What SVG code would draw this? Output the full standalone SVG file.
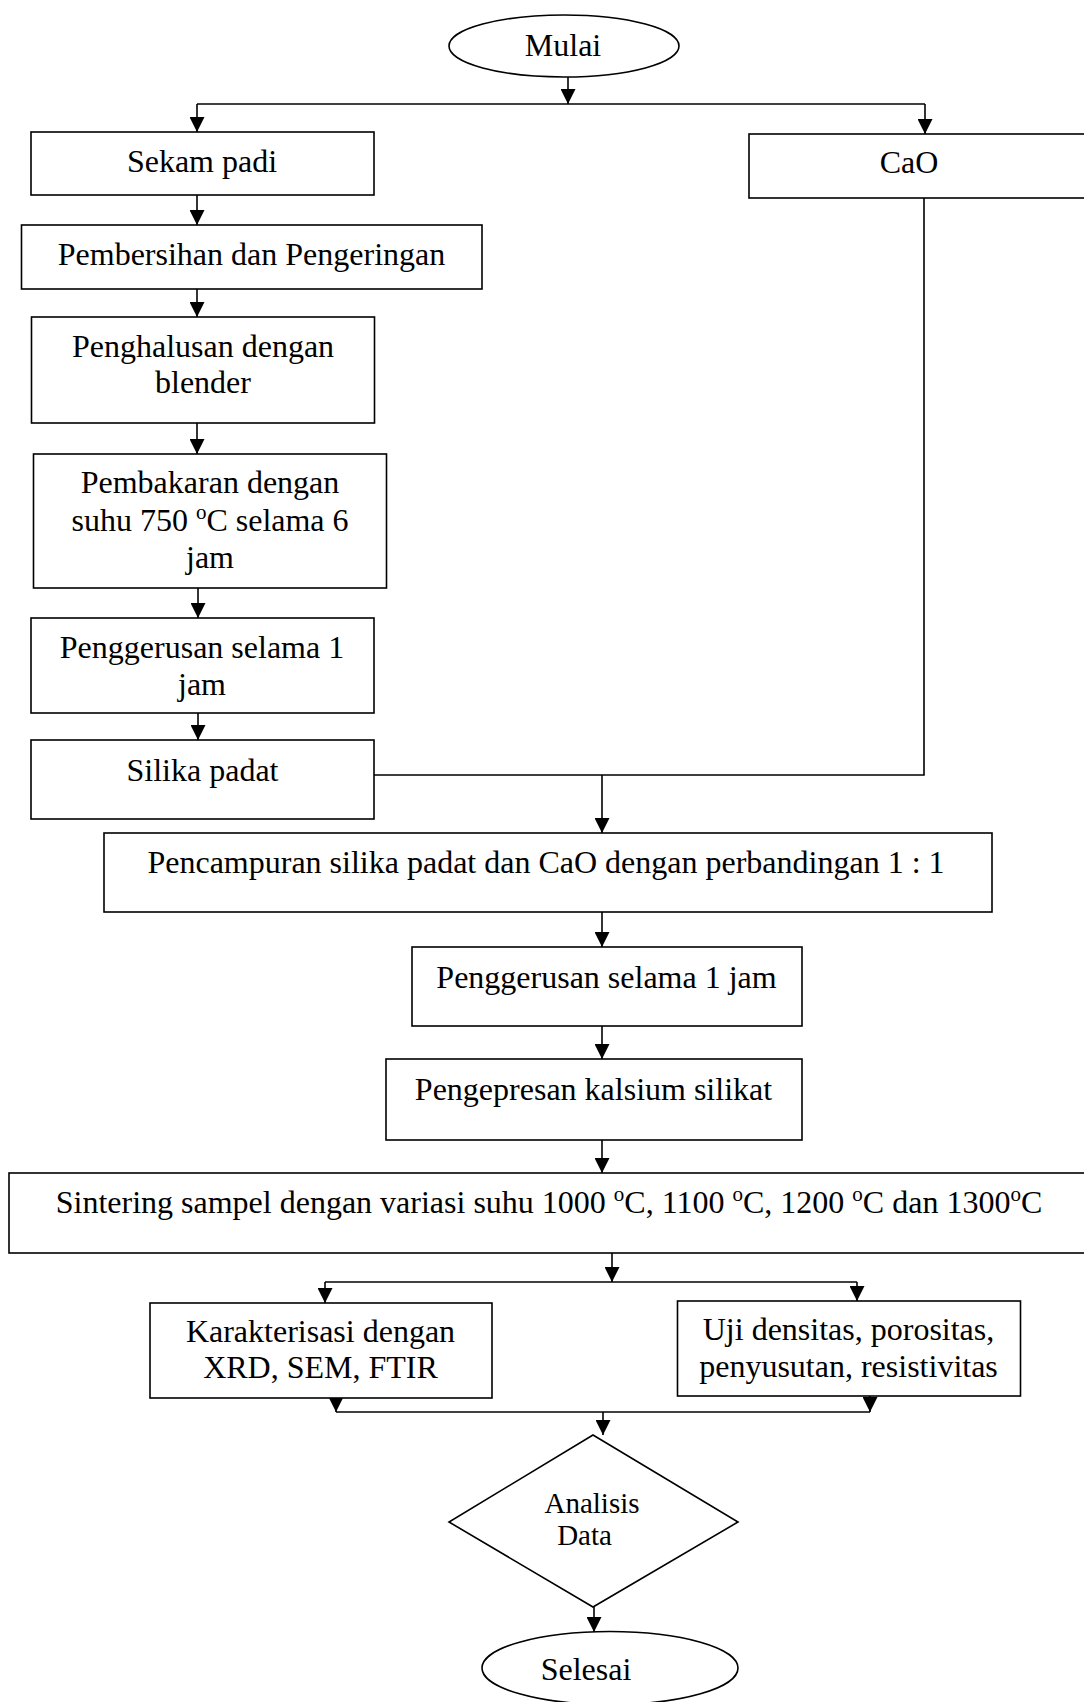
<svg xmlns="http://www.w3.org/2000/svg" width="1084" height="1702" viewBox="0 0 1084 1702">
<style>
.n{fill:#fff;stroke:#000;stroke-width:1.6}
.t{font-family:"Liberation Serif","Times New Roman",serif;font-size:32px;fill:#000;text-anchor:middle}
.s{font-size:29px}
.c{fill:none;stroke:#000;stroke-width:1.6}
</style>
<defs>
<marker id="ah" markerUnits="userSpaceOnUse" markerWidth="15" markerHeight="15" refX="15" refY="7.5" orient="auto">
<path d="M0,0 L15,7.5 L0,15 Z" fill="#000"/>
</marker>
</defs>
<rect width="1084" height="1702" fill="#fff"/>
<g id="connectors">
<path class="c" d="M568,77 V104" marker-end="url(#ah)"/>
<path class="c" d="M197,104 H925"/>
<path class="c" d="M197,104 V132" marker-end="url(#ah)"/>
<path class="c" d="M925,104 V134" marker-end="url(#ah)"/>
<path class="c" d="M197,195 V225" marker-end="url(#ah)"/>
<path class="c" d="M197,289 V317" marker-end="url(#ah)"/>
<path class="c" d="M197,423 V454" marker-end="url(#ah)"/>
<path class="c" d="M198,588 V618" marker-end="url(#ah)"/>
<path class="c" d="M198,713 V740" marker-end="url(#ah)"/>
<path class="c" d="M374,775 H924 V198"/>
<path class="c" d="M602,775 V833" marker-end="url(#ah)"/>
<path class="c" d="M602,912 V947" marker-end="url(#ah)"/>
<path class="c" d="M602,1026 V1059" marker-end="url(#ah)"/>
<path class="c" d="M602,1140 V1173" marker-end="url(#ah)"/>
<path class="c" d="M612,1253 V1282" marker-end="url(#ah)"/>
<path class="c" d="M325,1282 H857"/>
<path class="c" d="M325,1282 V1303" marker-end="url(#ah)"/>
<path class="c" d="M857,1282 V1301" marker-end="url(#ah)"/>
<path class="c" d="M336,1397 V1412" marker-end="url(#ah)"/>
<path class="c" d="M870,1396 V1412" marker-end="url(#ah)"/>
<path class="c" d="M336,1412 H870"/>
<path class="c" d="M603,1412 V1435" marker-end="url(#ah)"/>
<path class="c" d="M594,1607 V1632" marker-end="url(#ah)"/>
</g>
<g id="mulai"><ellipse class="n" cx="564" cy="46" rx="115" ry="31"/><text class="t" x="563" y="56">Mulai</text></g>
<g id="sekam"><rect class="n" x="31" y="132" width="343" height="63"/><text class="t" x="202" y="172">Sekam padi</text></g>
<g id="cao"><rect class="n" x="749" y="134" width="345" height="64"/><text class="t" x="909" y="173">CaO</text></g>
<g id="pembersihan"><rect class="n" x="21.5" y="225" width="460.5" height="64"/><text class="t" x="251.5" y="265">Pembersihan dan Pengeringan</text></g>
<g id="penghalusan"><rect class="n" x="31.5" y="317" width="343" height="106"/><text class="t" x="203" y="357">Penghalusan dengan</text><text class="t" x="203" y="393">blender</text></g>
<g id="pembakaran"><rect class="n" x="33.5" y="454" width="353" height="134"/><text class="t" x="210" y="493">Pembakaran dengan</text><text class="t" x="210" y="531">suhu 750 <tspan font-size="21" dy="-12">o</tspan><tspan dy="12">C selama 6</tspan></text><text class="t" x="210" y="568">jam</text></g>
<g id="penggerusan1"><rect class="n" x="31" y="618" width="343" height="95"/><text class="t" x="202" y="658">Penggerusan selama 1</text><text class="t" x="202" y="695">jam</text></g>
<g id="silika"><rect class="n" x="31" y="740" width="343" height="79"/><text class="t" x="202.5" y="781">Silika padat</text></g>
<g id="pencampuran"><rect class="n" x="104" y="833" width="888" height="79"/><text class="t" x="546" y="873">Pencampuran silika padat dan CaO dengan perbandingan 1 : 1</text></g>
<g id="penggerusan2"><rect class="n" x="412" y="947" width="390" height="79"/><text class="t" x="606.5" y="988">Penggerusan selama 1 jam</text></g>
<g id="pengepresan"><rect class="n" x="386" y="1059" width="416" height="81"/><text class="t" x="593.5" y="1100">Pengepresan kalsium silikat</text></g>
<g id="sintering"><rect class="n" x="9" y="1173" width="1085" height="80"/><text class="t" x="549" y="1213">Sintering sampel dengan variasi suhu 1000 <tspan font-size="21" dy="-12">o</tspan><tspan dy="12">C, 1100 </tspan><tspan font-size="21" dy="-12">o</tspan><tspan dy="12">C, 1200 </tspan><tspan font-size="21" dy="-12">o</tspan><tspan dy="12">C dan 1300</tspan><tspan font-size="21" dy="-12">o</tspan><tspan dy="12">C</tspan></text></g>
<g id="karakterisasi"><rect class="n" x="150" y="1303" width="342" height="95"/><text class="t" x="320.5" y="1342">Karakterisasi dengan</text><text class="t" x="320.5" y="1378">XRD, SEM, FTIR</text></g>
<g id="uji"><rect class="n" x="677.5" y="1301" width="343" height="95"/><text class="t" x="848.5" y="1340">Uji densitas, porositas,</text><text class="t" x="848.5" y="1377">penyusutan, resistivitas</text></g>
<g id="analisis"><polygon class="n" points="593,1435 738,1522 593,1607 449,1522"/><text class="t s" x="592" y="1513">Analisis</text><text class="t s" x="584.5" y="1545">Data</text></g>
<g id="selesai"><ellipse class="n" cx="610" cy="1668" rx="128" ry="36.5"/><text class="t" x="586" y="1680">Selesai</text></g>
</svg>
